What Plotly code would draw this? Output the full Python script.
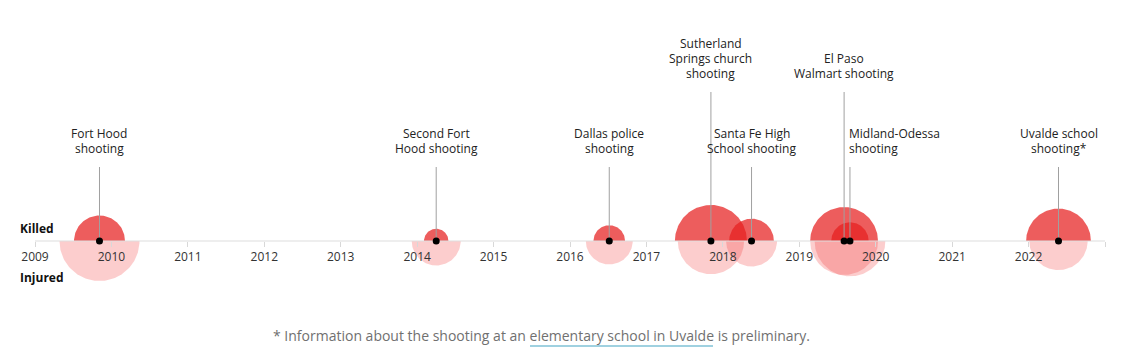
import numpy as np
import pandas as pd
import plotly.graph_objects as go

# ---------------- data ----------------
events = ["Fort Hood<br>shooting", "Second Fort<br>Hood shooting", "Dallas police<br>shooting",
          "Sutherland<br>Springs church<br>shooting", "Santa Fe High<br>School shooting",
          "El Paso<br>Walmart shooting", "Midland-Odessa<br>shooting", "Uvalde school<br>shooting*"]
dates = ["2009-11-05", "2014-04-02", "2016-07-07", "2017-11-05",
         "2018-05-18", "2019-08-03", "2019-08-31", "2022-05-24"]
killed = [13, 3, 5, 26, 10, 23, 7, 21]
injured = [32, 12, 11, 22, 13, 23, 25, 17]
label_level = [0, 0, 0, 1, 0, 1, 0, 0]          # 0 = low label, 1 = high label
label_align = ["center", "center", "center", "center", "center", "center", "left", "center"]
year_ticks = list(range(2009, 2024))
year_labels = [str(y) for y in range(2009, 2023)] + [""]

# ---------------- layout geometry ----------------
PAGE_OFF = 8                     # default body margin of the page
W, H = 1129 - 2 * PAGE_OFF, 363 - 2 * PAGE_OFF
ML, MR = 35 - PAGE_OFF, W - (1105 - PAGE_OFF)
AXIS_PX = 241 - PAGE_OFF
pxw = W - ML - MR
X0, X1 = 2009, 2023
ppy = pxw / (X1 - X0)
K = 50.0  # px^2 per person (area scale)
LINE_TOP = [74, 149]
LABEL_OFF = 18.5
LINE_H = 15

KILLED_FILL = "rgba(230,30,30,0.72)"
INJURED_FILL = "rgba(240,40,40,0.23)"


def dec_year(d):
    t = pd.Timestamp(d)
    n = 366 if t.is_leap_year else 365
    return t.year + (t.dayofyear - 1) / n


cx = [dec_year(d) for d in dates]

fig = go.Figure()


def half_circle(c, v, upper):
    r = np.sqrt(v * K)
    t = np.linspace(0, np.pi, 90) if upper else np.linspace(np.pi, 2 * np.pi, 90)
    xs = c + r * np.cos(t) / ppy
    ys = r * np.sin(t)
    return xs, ys


for c, v in zip(cx, injured):
    xs, ys = half_circle(c, v, False)
    fig.add_trace(go.Scatter(x=xs, y=ys, fill="toself", fillcolor=INJURED_FILL,
                             line=dict(width=0), mode="lines", hoverinfo="skip", showlegend=False))
for c, v in zip(cx, killed):
    xs, ys = half_circle(c, v, True)
    fig.add_trace(go.Scatter(x=xs, y=ys, fill="toself", fillcolor=KILLED_FILL,
                             line=dict(width=0), mode="lines", hoverinfo="skip", showlegend=False))

# baseline of the time axis (drawn between the circles and the dots)
fig.add_trace(go.Scatter(x=[X0, X1], y=[0, 0], mode="lines",
                         line=dict(color="#dddddd", width=1), hoverinfo="skip", showlegend=False))

for c, lv in zip(cx, label_level):
    fig.add_trace(go.Scatter(x=[c, c], y=[0, LINE_TOP[lv]], mode="lines",
                             line=dict(color="#a0a0a0", width=1), hoverinfo="skip", showlegend=False))

fig.add_trace(go.Scatter(x=cx, y=[0] * len(cx), mode="markers",
                         marker=dict(color="black", size=7), hoverinfo="skip", showlegend=False))

for c, lv, txt, al in zip(cx, label_level, events, label_align):
    lines = txt.split("<br>")
    n = len(lines)
    for i, ln in enumerate(lines):
        fig.add_annotation(x=c, y=LINE_TOP[lv] + LABEL_OFF + (n - 1 - i) * LINE_H,
                           xref="x", yref="y", text=ln,
                           showarrow=False, yanchor="middle",
                           xanchor="left" if al == "left" else "center", align=al,
                           xshift=-3 if al == "left" else 0,
                           font=dict(family="Open Sans", size=12, color="#222"))

fig.add_annotation(xref="paper", yref="y", x=(20 - 35) / pxw, y=13, text="<b>Killed</b>",
                   showarrow=False, xanchor="left", yanchor="middle", xshift=-2,
                   font=dict(family="Open Sans", size=12, color="#111"))
fig.add_annotation(xref="paper", yref="y", x=(20 - 35) / pxw, y=-36, text="<b>Injured</b>",
                   showarrow=False, xanchor="left", yanchor="middle", xshift=-2,
                   font=dict(family="Open Sans", size=12, color="#111"))

fig.add_annotation(xref="paper", yref="y", x=(541 - 35) / pxw, y=-(335 - 241),
                   text="* Information about the shooting at an elementary school in Uvalde is preliminary.",
                   showarrow=False, xanchor="center", yanchor="middle",
                   font=dict(family="Open Sans", size=14, color="#707070"))
fig.add_shape(type="line", xref="paper", yref="y",
              x0=(530 - 35) / pxw, x1=(713 - 35) / pxw,
              y0=-(346 - 241), y1=-(346 - 241),
              line=dict(color="#9fd1e0", width=2))

fig.update_layout(
    width=W, height=H,
    margin=dict(l=ML, r=MR, t=0, b=0),
    paper_bgcolor="white", plot_bgcolor="white",
    font=dict(family="Open Sans", size=12, color="#333"),
    xaxis=dict(range=[X0, X1], tickmode="array", tickvals=year_ticks, ticktext=year_labels,
               showgrid=False, zeroline=False, showline=False,
               ticks="outside", ticklen=5, tickcolor="#d8d8d8", layer="above traces",
               anchor="free", position=(H - AXIS_PX) / H,
               tickfont=dict(family="Open Sans", size=12, color="#333")),
    yaxis=dict(range=[-(H - AXIS_PX), AXIS_PX], visible=False, showgrid=False, zeroline=False),
)

fig.write_html("out.html")
